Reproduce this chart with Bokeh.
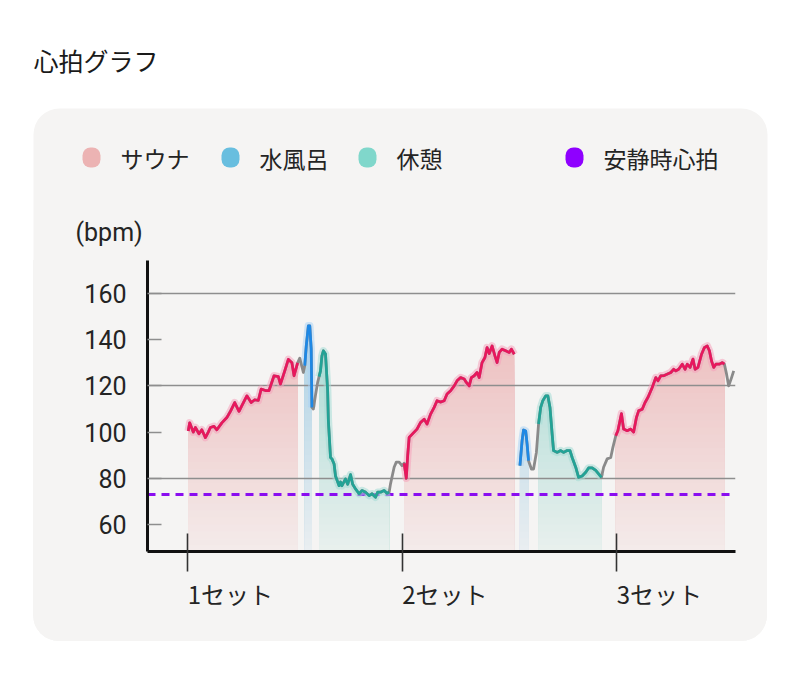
import numpy as np
from bokeh.plotting import figure
from bokeh.models import Range1d, FixedTicker, LinearAxis, BoxAnnotation, Label, Spacer
from bokeh.layouts import column, row
from bokeh.embed import file_html
from bokeh.resources import INLINE

# ---------------- data ----------------
chart_title = "心拍グラフ"
unit_label = "(bpm)"
legend_labels = ["サウナ", "水風呂", "休憩", "安静時心拍"]
set_ticks = [0, 30, 60]
set_labels = ["1セット", "2セット", "3セット"]
y_ticks = [60, 80, 100, 120, 140, 160]
grid_ticks = [80, 120, 160]
resting_bpm = 73

time_min = [
    0.1, 0.3, 0.8, 1.1, 1.6, 2.0, 2.5, 2.9, 3.2, 3.7, 4.1, 4.8, 5.5, 6.0, 6.6, 7.2, 7.6, 8.3, 8.9, 9.4,
    9.9, 10.3, 10.9, 11.4, 12.1, 12.7, 13.0, 13.6, 14.1, 14.6, 14.9, 15.4,
    15.7, 16.2, 16.4,
    16.6, 16.9, 17.1, 17.3, 17.4,
    17.6, 17.9, 18.2, 18.4,
    18.6, 18.8, 19.0, 19.3, 19.6, 19.7, 20.0, 20.2, 20.5, 20.7, 21.2, 21.4, 21.6, 22.1, 22.4, 22.8,
    23.1, 23.5, 24.0, 24.4, 24.9, 25.4, 25.8, 26.3, 26.6, 27.0, 27.5, 27.9, 28.2,
    28.4, 28.9, 29.2, 29.6, 30.0, 30.3,
    30.6, 30.8, 31.0, 31.7, 32.1, 32.6, 33.1, 33.5, 34.0, 34.5, 34.9, 35.4, 35.9, 36.3, 36.8, 37.3,
    37.7, 38.2, 38.7, 39.0, 39.4, 39.7, 40.1, 40.5, 40.8, 41.2, 41.6, 41.9, 42.2, 42.6, 43.0, 43.3,
    43.6, 44.0, 44.5, 45.0, 45.3, 45.7,
    46.1,
    46.5, 46.8, 47.0, 47.3, 47.5, 47.7,
    48.1, 48.4, 48.8, 49.1,
    49.4, 49.7, 50.1, 50.4, 50.7, 51.0, 51.2, 51.7, 52.2, 52.6, 53.1, 53.5, 53.8, 54.3, 54.7, 55.2,
    55.7, 56.1, 56.6, 57.1, 57.5, 57.9,
    58.2, 58.7, 59.2, 59.5, 59.9,
    60.2, 60.7, 61.0, 61.5, 62.0, 62.4, 62.8, 63.1, 63.6, 64.0, 64.4, 65.0, 65.5, 65.8, 66.2, 66.6,
    67.1, 67.6, 68.0, 68.3, 68.7, 69.2, 69.6, 69.9, 70.3, 70.7, 71.0, 71.4, 71.9, 72.3, 72.7, 73.0,
    73.3, 73.6, 73.9, 74.4, 74.8, 75.1,
    75.4, 75.7, 76.1, 76.4,
]
bpm = [
    100.5, 104, 100, 102, 99.3, 101, 97.6, 100, 102, 102.5, 101, 104, 106.3, 109, 112.8, 109, 111.5, 115.7, 112.8, 114,
    113.7, 118.6, 118, 118, 124.4, 124, 120.8, 126.5, 131.5, 130, 124.4, 130,
    132, 125.8, 128.8,
    137, 146, 146, 136, 110.7,
    110, 116, 121.5, 124,
    126.5, 133, 135.2, 133.8, 117.9, 105, 89, 88.4, 86.2, 81, 76.8, 78.4, 76.8, 79.7, 77.4, 81.6,
    77.4, 75.4, 73.3, 74.7, 74, 72.5, 73.3, 71.8, 74, 74, 74.7, 73.5, 74,
    77.7, 84.8, 87, 87, 85.5, 86.5,
    80, 90, 97.7, 100, 101.3, 104.2, 105.6, 103.5, 107.8, 110.7, 113.6, 113, 113.6, 116.5, 117.9, 120,
    122.2, 123.6, 123, 121.5, 120, 123.6, 124.4, 125.8, 123.6, 130.1, 132.3, 136.6, 134, 137.3, 133, 130.1,
    134.5, 135.9, 135.2, 134.5, 135.9, 133.7,
    float("nan"),
    85.5, 96.3, 100.9, 100.5, 94.8, 87.6,
    84, 84, 91.2, 103.5,
    110.7, 113.6, 115.7, 115.7, 110.7, 99.2, 92, 91.2, 92, 91.2, 92, 92, 89, 84.8, 80.4, 81,
    82.6, 84.5, 84.5, 83.4, 81.9, 80.4,
    84.8, 88.4, 89, 93.4, 98.4,
    100.6, 108, 101.3, 100.6, 101.3, 100, 106.4, 109.2, 109.9, 112.8, 115, 119.3, 123.6, 122.2, 124.4, 124.4,
    125.1, 125.8, 127.2, 126.5, 127.2, 129.4, 127.2, 129.4, 128, 131.6, 127.2, 128, 133.7, 136.6, 137.3, 135.2,
    130.8, 128, 129.4, 129.4, 130.1, 129.4,
    125.1, 120, 123.6, 126.5,
]
sauna_periods = [(0.1, 15.4), (30.3, 45.7), (59.9, 75.1)]
cold_bath_periods = [(16.4, 17.4), (46.5, 47.7)]
rest_periods = [(18.4, 28.2), (49.1, 57.9)]

# ---------------- style / layout ----------------
W, H = 800, 679
PL, PR, PT, PB = 33, 767, 108, 641      # rounded panel
FL, FR, FT, FB = 147, 735, 260, 551     # plot frame
PANEL = "#f5f4f3"
PANEL_RGB = (245, 244, 243)
JP = "Noto Sans CJK JP"
NUM = "Roboto"
TXT = "#242424"


def mix(base, a):
    return "#%02x%02x%02x" % tuple(int(round(PANEL_RGB[i] * (1 - a) + base[i] * a)) for i in range(3))


def alpha_at(y):
    return float(np.clip(0.07 + 0.33 * (y - 48) / (135 - 48), 0.07, 0.41))


def bare_fig(w, h):
    f = figure(width=w, height=h, x_range=Range1d(0, 1), y_range=Range1d(0, 1),
               output_backend="svg", toolbar_location=None, min_border=0,
               x_axis_location=None, y_axis_location=None,
               background_fill_color="white", border_fill_color="white", outline_line_color=None)
    f.xgrid.visible = False
    f.ygrid.visible = False
    return f


def cbox(f, l, r, t_, b_, color, radius=0):
    f.add_layout(BoxAnnotation(left=l, right=r, top=t_, bottom=b_,
                               left_units="canvas", right_units="canvas",
                               top_units="canvas", bottom_units="canvas",
                               fill_color=color, fill_alpha=1, line_color=None,
                               border_radius=radius))


def clabel(f, x, y, text, size, font=JP, style="normal", color=TXT):
    f.add_layout(Label(x=x, y=y, x_units="canvas", y_units="canvas", text=text,
                       text_font=font, text_font_size=size, text_font_style=style,
                       text_color=color, text_baseline="middle", text_align="left"))


# ---- header: title, top of the panel, legend, unit ----
head = bare_fig(W, FT)
cbox(head, PL, PR, PT, FT + 5, PANEL, (26, 26, 0, 0))
clabel(head, 33, 59, chart_title, "25px", color="#1a1a1a")
clabel(head, 75, 232, unit_label, "25px", font=NUM)
legend_cols = ["#ecb3b3", "#68bedf", "#80d7cb", "#8f00ff"]
legend_x = [82, 221, 358, 565]
for lx, col, txt in zip(legend_x, legend_cols, legend_labels):
    cbox(head, lx, lx + 18, 147, 167, col, 8)
    clabel(head, lx + 38, 157, txt, "23px")

# ---- main chart (bottom part of the panel, rounded lower corners) ----
t = np.array(time_min, dtype=float)
v = np.array(bpm, dtype=float)
y0, y1 = 48.3, 174.3

p = figure(width=PR - PL, height=PB - FT, x_range=Range1d(-5.6, 76.65), y_range=Range1d(y0, y1),
           output_backend="svg", toolbar_location=None,
           min_border_left=FL - PL, min_border_right=PR - FR, min_border_top=0, min_border_bottom=PB - FB,
           background_fill_color=PANEL, border_fill_color=PANEL, outline_line_color=None,
           styles={"background-color": PANEL, "border-radius": "0px 0px 26px 26px", "overflow": "hidden"})
p.xgrid.visible = False
p.ygrid.visible = False

fill_bases = {"sauna": (226, 120, 122), "cold": (80, 165, 210), "rest": (70, 185, 170)}
caps = np.arange(150, 48, -3.0)
for kind, periods in (("sauna", sauna_periods), ("cold", cold_bath_periods), ("rest", rest_periods)):
    for (s, e) in periods:
        m = (t >= s - 1e-9) & (t <= e + 1e-9) & ~np.isnan(v)
        ts, vs = t[m], v[m]
        top = vs.max()
        p.varea(x=ts, y1=y0, y2=vs, fill_color=mix(fill_bases[kind], alpha_at(top)))
        for c in caps:
            if c > top + 3:
                continue
            p.varea(x=ts, y1=y0, y2=np.minimum(vs, c), fill_color=mix(fill_bases[kind], alpha_at(c - 1.5)))

p.hspan(y=grid_ticks, line_color="#8e8e8e", line_width=1.6)
p.hspan(y=[resting_bpm], line_color="#8a0df0", line_width=3, line_dash="8 6")

line_cols = {"sauna": "#e8175d", "cold": "#1e88e5", "rest": "#22a396"}
glow_cols = {"sauna": "#f6a3bb", "cold": "#a9d3f5", "rest": "#a4ddd6"}
all_periods = [("sauna", sauna_periods), ("cold", cold_bath_periods), ("rest", rest_periods)]
for kind, periods in all_periods:
    for (s, e) in periods:
        m = (t >= s - 1e-9) & (t <= e + 1e-9)
        p.line(t[m], v[m], line_color=glow_cols[kind], line_width=7.5, line_alpha=0.55, line_join="round")
p.line(t, v, line_color="#8a8a8a", line_width=2.8, line_join="round")
for kind, periods in all_periods:
    for (s, e) in periods:
        m = (t >= s - 1e-9) & (t <= e + 1e-9)
        p.line(t[m], v[m], line_color=line_cols[kind], line_width=2.7, line_join="round")

ya = p.yaxis[0]
ya.ticker = FixedTicker(ticks=y_ticks)
ya.minor_tick_line_color = None
ya.major_tick_in = 14
ya.major_tick_out = 0
ya.major_tick_line_color = "#8e8e8e"
ya.major_tick_line_width = 1.6
ya.axis_line_color = "#111111"
ya.axis_line_width = 3
ya.major_label_standoff = 21
ya.major_label_text_font = NUM
ya.major_label_text_font_size = "25px"
ya.major_label_text_color = TXT

xa = p.xaxis[0]
xa.ticker = FixedTicker(ticks=set_ticks)
xa.minor_tick_line_color = None
xa.major_tick_in = 18
xa.major_tick_out = 20
xa.major_tick_line_color = "#333333"
xa.major_tick_line_width = 1.6
xa.axis_line_color = "#111111"
xa.axis_line_width = 3
xa.major_label_overrides = {k: "" for k in set_ticks}
xa.major_label_standoff = 0

label_shift = 6  # label text starts at its tick
xl = LinearAxis(ticker=FixedTicker(ticks=[k + label_shift for k in set_ticks]),
                major_label_overrides={k + label_shift: lab for k, lab in zip(set_ticks, set_labels)},
                axis_line_color=None, major_tick_line_color=None, minor_tick_line_color=None,
                major_tick_in=0, major_tick_out=0, major_label_standoff=4,
                major_label_text_font=JP, major_label_text_font_size="24px",
                major_label_text_color=TXT)
p.add_layout(xl, "below")

mid = row(Spacer(width=PL, height=PB - FT), p, Spacer(width=W - PR, height=PB - FT), spacing=0)
layout = column(head, mid, spacing=0)

open("out.html", "w").write(file_html(layout, INLINE))
